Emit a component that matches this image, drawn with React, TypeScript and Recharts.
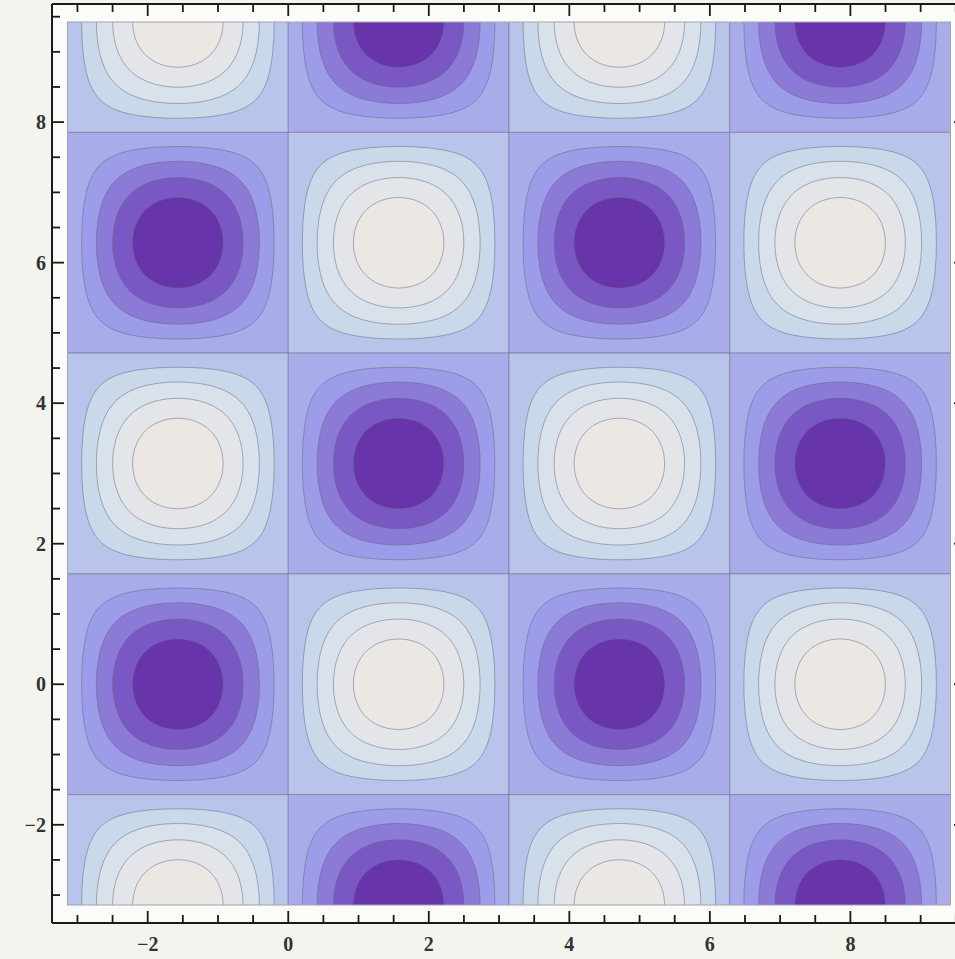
import React from "react";
import { ComposedChart, XAxis, YAxis, ReferenceArea, CartesianGrid } from "recharts";

const PI = Math.PI;

// plotted region: -π .. 3π on both axes
const fieldX = [-PI, 3 * PI];
const fieldY = [-PI, 3 * PI];

// centres of the contour cells
const peakX = [-PI / 2, PI / 2, (3 * PI) / 2, (5 * PI) / 2];
const peakY = [3 * PI, 2 * PI, PI, 0, -PI];

// +1 = light maximum, -1 = purple minimum (rows top to bottom)
const peakSign = [
  [1, -1, 1, -1],
  [-1, 1, -1, 1],
  [1, -1, 1, -1],
  [-1, 1, -1, 1],
  [1, -1, 1, -1],
];

// contour values (absolute)
const levels = [0.2, 0.4, 0.6, 0.8];

// band colours, from cell edge (0) inward
const lowColors = ["#aaace9", "#9d9ce8", "#8b7bd7", "#7a58c3", "#6734aa"];
const highColors = ["#b9c4ea", "#c9d9ea", "#d9e2ea", "#e3e5e8", "#ebe7e2"];

const xTicks = [-3, -2.5, -2, -1.5, -1, -0.5, 0, 0.5, 1, 1.5, 2, 2.5, 3, 3.5, 4, 4.5, 5, 5.5, 6, 6.5, 7, 7.5, 8, 8.5, 9, 9.5];
const yTicks = [-3, -2.5, -2, -1.5, -1, -0.5, 0, 0.5, 1, 1.5, 2, 2.5, 3, 3.5, 4, 4.5, 5, 5.5, 6, 6.5, 7, 7.5, 8, 8.5, 9, 9.5];
const majorTicks = [-2, 0, 2, 4, 6, 8];

const lineColor = "rgba(100,100,130,0.5)";
const labelFont = "'Liberation Serif', 'DejaVu Serif', serif";

const fmt = (v: number) => (v < 0 ? "\u2212" + Math.abs(v) : String(v));
const isMajor = (v: number) => majorTicks.includes(v);

// distance along a ray from the cell centre to the contour of value c
function ringRadius(theta: number, c: number) {
  const ct = Math.cos(theta);
  const st = Math.sin(theta);
  let lo = 0;
  let hi = PI / 2 / Math.max(Math.abs(ct), Math.abs(st));
  for (let i = 0; i < 40; i++) {
    const m = (lo + hi) / 2;
    const val = Math.cos(m * ct) * Math.cos(m * st);
    if (val > c) lo = m;
    else hi = m;
  }
  return lo;
}

const ringShape = (c: number, fill: string) => (props: any) => {
  const { x, y, width, height } = props;
  const A = Math.acos(c);
  const cx = x + width / 2;
  const cy = y + height / 2;
  const n = 180;
  let d = "";
  for (let i = 0; i < n; i++) {
    const t = (i / n) * 2 * PI;
    const r = ringRadius(t, c);
    const px = cx + ((r * Math.cos(t)) / A) * (width / 2);
    const py = cy - ((r * Math.sin(t)) / A) * (height / 2);
    d += (i === 0 ? "M" : "L") + px.toFixed(2) + "," + py.toFixed(2);
  }
  d += "Z";
  return <path d={d} fill={fill} stroke={lineColor} strokeWidth={1} clipPath="url(#field)" />;
};

const cellShape = (fill: string) => (props: any) => {
  const { x, y, width, height } = props;
  return (
    <rect x={x} y={y} width={width} height={height} fill={fill} stroke={lineColor} strokeWidth={1} clipPath="url(#field)" />
  );
};

const fieldClip = (props: any) => {
  const { x, y, width, height } = props;
  return (
    <defs>
      <clipPath id="field">
        <rect x={x} y={y} width={width} height={height} />
      </clipPath>
    </defs>
  );
};

const fieldBorder = (props: any) => {
  const { x, y, width, height } = props;
  return <rect x={x} y={y} width={width} height={height} fill="none" stroke="#a3a3ad" strokeWidth={1} />;
};

const BottomTick = (props: any) => {
  const { x, y, payload } = props;
  const major = isMajor(payload.value);
  return (
    <g>
      <line x1={x} y1={y} x2={x} y2={y - (major ? 12 : 8)} stroke="#1a1a1a" strokeWidth={1.8} />
      {major && (
        <text x={x} y={y + 28} textAnchor="middle" fontFamily={labelFont} fontSize={20} fontWeight="bold" fill="#333">
          {fmt(payload.value)}
        </text>
      )}
    </g>
  );
};

const TopTick = (props: any) => {
  const { x, y, payload } = props;
  const major = isMajor(payload.value);
  return <line x1={x} y1={y} x2={x} y2={y + (major ? 12 : 8)} stroke="#1a1a1a" strokeWidth={1.8} />;
};

const LeftTick = (props: any) => {
  const { x, y, payload } = props;
  const major = isMajor(payload.value);
  return (
    <g>
      <line x1={x} y1={y} x2={x + (major ? 12 : 8)} y2={y} stroke="#1a1a1a" strokeWidth={1.8} />
      {major && (
        <text x={x - 6} y={y} dy="0.35em" textAnchor="end" fontFamily={labelFont} fontSize={20} fontWeight="bold" fill="#333">
          {fmt(payload.value)}
        </text>
      )}
    </g>
  );
};

const RightTick = (props: any) => {
  const { x, y, payload } = props;
  const major = isMajor(payload.value);
  return <line x1={x} y1={y} x2={x - (major ? 12 : 8)} y2={y} stroke="#1a1a1a" strokeWidth={1.8} />;
};

export default function App() {
  const areas: React.ReactNode[] = [];
  peakY.forEach((py, row) => {
    peakX.forEach((px, col) => {
      const s = peakSign[row][col];
      const colors = s > 0 ? highColors : lowColors;
      areas.push(
        <ReferenceArea
          key={`c-${row}-${col}`}
          x1={px - PI / 2}
          x2={px + PI / 2}
          y1={py - PI / 2}
          y2={py + PI / 2}
          ifOverflow="visible"
          shape={cellShape(colors[0])}
        />
      );
      levels.forEach((c, k) => {
        const A = Math.acos(c);
        areas.push(
          <ReferenceArea
            key={`r-${row}-${col}-${k}`}
            x1={px - A}
            x2={px + A}
            y1={py - A}
            y2={py + A}
            ifOverflow="visible"
            shape={ringShape(c, colors[k + 1])}
          />
        );
      });
    });
  });

  const axisLine = { stroke: "#1a1a1a", strokeWidth: 2 };

  return (
    <div
      style={{
        position: "absolute",
        left: 0,
        top: 0,
        width: 955,
        height: 959,
        overflow: "hidden",
        background: "#f4f4ef",
      }}
    >
      <ComposedChart width={980} height={959} margin={{ top: 3, left: 51, right: 13, bottom: 35 }} data={[]}>
        <CartesianGrid horizontal={false} vertical={false} fill="#fbfbf9" />
        <XAxis
          xAxisId={0}
          type="number"
          dataKey="x"
          domain={fieldX}
          allowDataOverflow
          padding={{ left: 15.5, right: 15.5 }}
          ticks={xTicks}
          interval={0}
          height={1}
          tickSize={0}
          tickMargin={0}
          tickLine={false}
          axisLine={axisLine}
          tick={<BottomTick />}
        />
        <XAxis
          xAxisId="top"
          orientation="top"
          type="number"
          dataKey="x"
          domain={fieldX}
          allowDataOverflow
          padding={{ left: 15.5, right: 15.5 }}
          ticks={xTicks}
          interval={0}
          height={1}
          tickSize={0}
          tickMargin={0}
          tickLine={false}
          axisLine={axisLine}
          tick={<TopTick />}
        />
        <YAxis
          yAxisId={0}
          type="number"
          dataKey="y"
          domain={fieldY}
          allowDataOverflow
          padding={{ top: 18, bottom: 18 }}
          ticks={yTicks}
          interval={0}
          width={1}
          tickSize={0}
          tickMargin={0}
          tickLine={false}
          axisLine={axisLine}
          tick={<LeftTick />}
        />
        <YAxis
          yAxisId="right"
          orientation="right"
          type="number"
          dataKey="y"
          domain={fieldY}
          allowDataOverflow
          padding={{ top: 18, bottom: 18 }}
          ticks={yTicks}
          interval={0}
          width={1}
          tickSize={0}
          tickMargin={0}
          tickLine={false}
          axisLine={axisLine}
          tick={<RightTick />}
        />
        <ReferenceArea x1={fieldX[0]} x2={fieldX[1]} y1={fieldY[0]} y2={fieldY[1]} ifOverflow="visible" shape={fieldClip} />
        {areas}
        <ReferenceArea x1={fieldX[0]} x2={fieldX[1]} y1={fieldY[0]} y2={fieldY[1]} ifOverflow="visible" shape={fieldBorder} />
      </ComposedChart>
    </div>
  );
}
